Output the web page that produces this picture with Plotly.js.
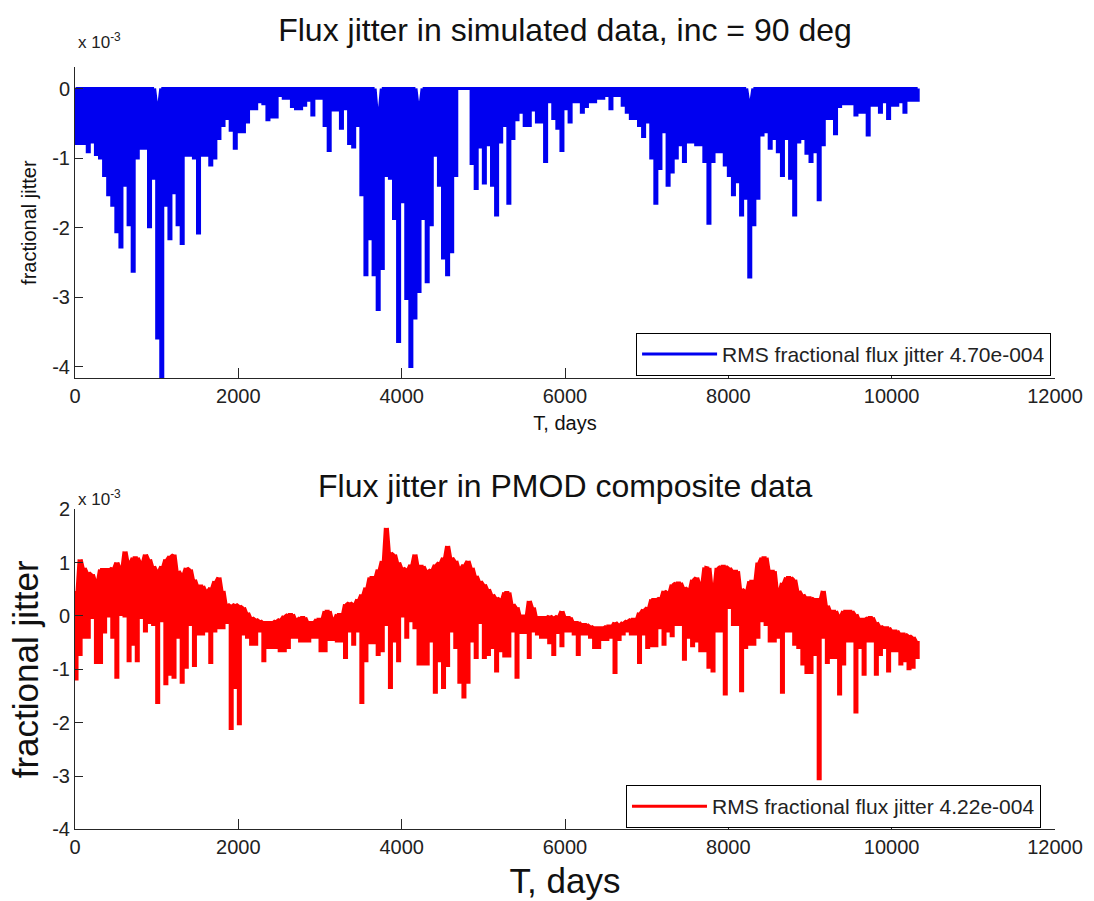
<!DOCTYPE html>
<html>
<head>
<meta charset="utf-8">
<script src="https://cdn.plot.ly/plotly-3.0.1.min.js"></script>
<style>html,body{margin:0;padding:0;background:#fff}#chart{width:1094px;height:901px}</style>
</head>
<body>
<div id="chart"></div>
<script>
// Time grid: one sample every 50 days (T, days); values are in units of 1e-3
const stepDays = 50;

// Simulated data (inc = 90 deg): upper and lower swing of the jitter in each 50-day sample
const simHigh = [
  0,0,0,0,0,0,0,0,0,0,
  0,0,0,0,0,0,0,0,0,0,
  -0.25,0,0,0,0,0,0,0,0,0,
  0,0,0,0,0,0,0,0,0,0,
  0,0,0,0,0,0,0,0,0,0,
  0,0,0,0,0,0,0,0,0,0,
  0,0,0,0,0,0,0,0,0,0,
  0,0,0,0,-0.35,0,0,0,0,0,
  0,0,0,0,-0.25,0,0,0,0,0,
  0,0,0,0,0,0,0,0,0,0,
  0,0,0,0,0,0,0,0,0,0,
  0,0,0,0,0,0,0,0,0,0,
  0,0,0,0,0,0,0,0,0,0,
  0,0,0,0,0,0,0,0,0,0,
  0,0,0,0,0,0,0,0,0,0,
  0,0,0,0,0,0,0,0,0,0,
  0,0,0,0,0,-0.2,0,0,0,0,
  0,0,0,0,0,0,0,0,0,0,
  0,0,0,0,0,0,0,0,0,0,
  0,0,0,0,0,0,0,0,0,0,
  0,0,0,0,0,0,0
];
const simLow = [
  -0.79,-0.79,-0.79,-0.91,-0.77,-0.95,-1.0,-1.25,-1.53,-1.68,
  -2.06,-2.28,-1.39,-1.96,-2.63,-1.0,-0.86,-0.86,-1.99,-1.29,
  -3.59,-4.17,-1.68,-2.16,-1.5,-1.96,-2.23,-0.96,-0.96,-1.0,
  -2.08,-0.96,-0.96,-1.1,-1.0,-0.72,-0.53,-0.43,-0.6,-0.86,
  -0.62,-0.62,-0.48,-0.29,-0.29,-0.19,-0.22,-0.45,-0.41,-0.41,
  -0.1,-0.14,-0.14,-0.26,-0.29,-0.29,-0.24,-0.17,-0.38,-0.14,
  -0.14,-0.53,-0.89,-0.31,-0.31,-0.57,-0.29,-0.79,-0.84,-0.53,
  -1.53,-2.68,-2.16,-2.68,-3.18,-2.59,-1.25,-1.29,-1.87,-3.64,
  -1.63,-3.02,-4.0,-3.3,-2.92,-1.87,-2.78,-1.96,-0.96,-1.39,
  -2.44,-2.68,-2.35,-1.25,0,0,0,-1.08,-1.44,-0.84,
  -1.36,-0.81,-1.39,-1.82,-0.77,-0.53,-1.65,-0.72,-0.45,-0.34,
  -0.53,-0.53,-0.31,-0.48,-0.48,-1.05,-0.19,-0.43,-0.57,-0.89,
  -0.29,-0.48,-0.19,-0.19,-0.34,-0.26,-0.19,-0.19,-0.14,-0.14,
  -0.1,-0.29,-0.1,-0.1,-0.24,-0.34,-0.43,-0.43,-0.53,-0.69,
  -0.48,-1.0,-1.65,-1.15,-0.62,-1.39,-1.2,-1.0,-0.81,-1.05,
  -0.77,-0.77,-0.81,-0.81,-1.05,-1.94,-1.05,-0.91,-0.91,-1.1,
  -1.25,-1.53,-1.34,-1.82,-1.58,-2.71,-1.96,-1.58,-0.67,-0.62,
  -0.86,-0.72,-0.91,-1.25,-0.72,-1.29,-1.82,-0.77,-0.72,-0.93,
  -1.05,-0.91,-1.6,-0.81,-0.43,-0.43,-0.65,-0.26,-0.22,-0.22,
  -0.22,-0.38,-0.34,-0.34,-0.67,-0.24,-0.24,-0.34,-0.19,-0.43,
  -0.24,-0.24,-0.19,-0.34,-0.17,-0.17,-0.17
];

// PMOD composite data: upper and lower swing of the jitter in each 50-day sample
const pmodHigh = [
  0.47,1.06,0.9,0.81,0.78,0.65,0.87,0.87,0.87,0.9,
  1.0,0.9,1.21,1.0,1.09,1.09,1.0,1.15,1.06,0.93,
  0.84,0.93,1.06,1.12,1.15,0.84,0.78,0.9,0.87,0.68,
  0.56,0.56,0.47,0.53,0.65,0.72,0.47,0.22,0.19,0.22,
  0.19,0.16,0.06,-0.03,-0.06,-0.09,-0.12,-0.12,-0.12,-0.09,
  -0.06,0.0,0.03,0.03,-0.06,-0.03,-0.03,-0.12,-0.12,-0.06,
  -0.06,0.09,0.09,-0.06,0.03,0.03,0.22,0.25,0.22,0.31,
  0.4,0.53,0.72,0.72,0.87,1.03,1.65,1.18,1.15,1.0,
  0.9,0.87,0.96,1.15,0.93,0.93,0.84,0.87,0.96,1.0,
  1.09,1.31,1.09,1.03,0.9,0.96,1.03,0.9,0.75,0.65,
  0.59,0.5,0.4,0.34,0.31,0.44,0.44,0.22,0.16,0.0,
  0.0,0.28,0.16,-0.03,-0.03,-0.03,0.0,-0.03,0.0,0.09,
  -0.03,-0.03,-0.12,-0.12,-0.16,-0.16,-0.19,-0.22,-0.22,-0.22,
  -0.19,-0.19,-0.12,-0.16,-0.12,-0.09,-0.06,-0.06,0.06,0.12,
  0.16,0.31,0.31,0.34,0.47,0.44,0.59,0.62,0.62,0.53,
  0.5,0.68,0.72,0.59,0.91,0.9,0.53,0.9,0.93,0.93,
  0.9,0.84,0.84,0.5,0.47,0.65,0.65,1.0,1.09,1.09,
  0.84,0.84,0.47,0.62,0.72,0.72,0.68,0.47,0.4,0.34,
  0.34,0.31,0.31,0.47,0.19,0.09,0.09,0.0,0.09,0.09,
  0.09,0.03,-0.06,-0.06,-0.03,-0.03,-0.12,-0.19,-0.22,-0.22,
  -0.28,-0.28,-0.34,-0.34,-0.37,-0.4,-0.47
];
const pmodLow = [
  -1.18,-0.72,-0.4,-0.4,-0.03,-0.87,-0.87,-0.3,0.0,-0.4,
  -1.15,0.03,0.0,-0.84,-0.53,-0.84,-0.03,-0.28,-0.12,-0.16,
  -1.62,-0.09,-1.27,-1.09,-1.15,-0.4,-1.24,-0.96,-0.16,-0.93,
  -0.34,-0.34,-0.28,-0.87,-0.28,-0.22,-0.22,-0.12,-2.11,-1.34,
  -2.02,-0.34,-0.4,-0.53,-0.53,-0.28,-0.84,-0.59,-0.59,-0.59,
  -0.65,-0.65,-0.59,-0.4,-0.4,-0.47,-0.47,-0.47,-0.4,-0.4,
  -0.65,-0.65,-0.44,-0.44,-0.47,-0.47,-0.78,-0.28,-0.53,-0.28,
  -1.62,-0.84,-0.5,-0.5,-0.72,-0.65,-0.16,-1.34,-0.47,-0.84,
  0.0,-0.4,-0.09,-0.22,-0.9,-0.9,-0.9,-0.47,-1.43,-0.84,
  -1.34,-0.93,-0.28,-0.59,-1.24,-1.52,-1.24,-0.47,-0.78,-0.12,
  -0.78,-0.72,-0.59,-1.03,-0.65,-0.75,-0.75,-0.28,-1.15,-0.31,
  -0.31,-0.78,-0.28,-0.34,-0.4,-0.4,-0.5,-0.72,-0.31,-0.56,
  -0.28,-0.28,-0.34,-0.72,-0.34,-0.34,-0.4,-0.59,-0.59,-0.44,
  -0.44,-0.4,-1.06,-0.44,-0.34,-0.28,-0.34,-0.34,-0.87,-0.34,
  -0.59,-0.56,-0.56,-0.22,-0.53,-0.28,-0.37,-0.16,-0.16,-0.81,
  -0.4,-0.56,-0.47,-0.65,-0.65,-0.96,-1.03,-0.28,-0.28,-1.46,
  0.16,-0.16,-0.16,-1.4,-0.59,-0.53,-0.53,-0.4,-0.09,-0.16,
  -0.47,-0.47,-0.4,-1.43,-0.28,-0.28,-0.53,-0.59,-0.9,-1.06,
  -1.06,-0.72,-3.05,-0.4,-0.87,-0.78,-0.78,-1.46,-0.9,-0.47,
  -0.47,-1.8,-0.59,-1.09,-0.47,-0.47,-1.09,-0.72,-0.59,-1.03,
  -0.65,-0.65,-0.9,-0.84,-0.99,-0.96,-0.78
];

const xTickVals = [0, 2000, 4000, 6000, 8000, 10000, 12000];
const simYTickVals = [-4, -3, -2, -1, 0];
const simYTickText = ['-4', '-3', '-2', '-1', '0'];
const pmodYTickVals = [-4, -3, -2, -1, 0, 1, 2];
const pmodYTickText = ['-4', '-3', '-2', '-1', '0', '1', '2'];

const simLegend = 'RMS fractional flux jitter 4.70e-004';
const pmodLegend = 'RMS fractional flux jitter 4.22e-004';

// Build the jitter line: within each 50-day sample the flux swings from its
// upper value down to its lower value and back, over the first half of the sample
function jitterLine(high, low) {
  const x = [], y = [];
  for (let i = 0; i < high.length; i++) {
    const t0 = i * stepDays, t1 = i * stepDays + stepDays / 2;
    x.push(t0, t0, t1, t1);
    y.push(high[i], low[i], low[i], high[i]);
  }
  return {x, y};
}

const sim = jitterLine(simHigh, simLow);
const pmod = jitterLine(pmodHigh, pmodLow);

const FONT = 'Liberation Sans, Arial, Helvetica, sans-serif';
const AX = '#262626';

const traces = [
  {x: sim.x, y: sim.y, type: 'scatter', mode: 'lines', name: simLegend,
   line: {color: '#0000f0', width: 3}, xaxis: 'x', yaxis: 'y', legend: 'legend'},
  {x: pmod.x, y: pmod.y, type: 'scatter', mode: 'lines', name: pmodLegend,
   line: {color: '#ff0000', width: 3}, xaxis: 'x2', yaxis: 'y2', legend: 'legend2'}
];

function xAxis(anchor, titleSize, standoff) {
  return {
    anchor: anchor, domain: [0, 1], range: [0, 12000],
    tickvals: xTickVals, tickformat: 'd',
    ticks: 'inside', ticklen: 10, tickwidth: 1, tickcolor: AX,
    showline: true, linecolor: AX, linewidth: 1,
    showgrid: false, zeroline: false, automargin: false,
    tickfont: {family: FONT, size: 20, color: '#222'},
    title: {text: 'T, days', font: {family: FONT, size: titleSize, color: '#111'}, standoff: standoff}
  };
}
function yAxis(anchor, domain, range, vals, text, titleSize, standoff) {
  return {
    anchor: anchor, domain: domain, range: range,
    tickvals: vals, ticktext: text,
    ticks: 'inside', ticklen: 8, tickwidth: 1, tickcolor: AX,
    showline: true, linecolor: AX, linewidth: 1,
    showgrid: false, zeroline: false, automargin: false,
    tickfont: {family: FONT, size: 20, color: '#222'},
    title: {text: 'fractional jitter', font: {family: FONT, size: titleSize, color: '#111'}, standoff: standoff}
  };
}

const legendBase = {
  xanchor: 'right', yanchor: 'top', bgcolor: '#ffffff',
  bordercolor: '#000000', borderwidth: 1, itemwidth: 75,
  font: {family: FONT, size: 21, color: '#222'}
};

const layout = {
  width: 1094, height: 901,
  margin: {l: 75, r: 39, t: 10, b: 10},
  paper_bgcolor: '#ffffff', plot_bgcolor: '#ffffff',
  font: {family: FONT, color: '#222'},
  showlegend: true,
  title: {text: 'Flux jitter in simulated data, inc = 90 deg', font: {family: FONT, size: 32, color: '#111'},
          xref: 'paper', x: 0.5, xanchor: 'center', yref: 'container', y: 0.967, yanchor: 'middle'},
  xaxis: xAxis('y', 20, 9),
  yaxis: yAxis('x', [0.5819, 0.9353], [-4.17, 0.31], simYTickVals, simYTickText, 20, 10),
  xaxis2: xAxis('y2', 35, 11),
  yaxis2: yAxis('x2', [0.0699, 0.4333], [-4, 2], pmodYTickVals, pmodYTickText, 35, 2),
  legend: Object.assign({}, legendBase, {x: 0.996, y: 0.6334}),
  legend2: Object.assign({}, legendBase, {x: 0.9857, y: 0.1203}),
  annotations: [
    {text: 'Flux jitter in PMOD composite data', xref: 'paper', yref: 'paper', x: 0.5, y: 0.4597,
     xanchor: 'center', yanchor: 'middle', showarrow: false, font: {family: FONT, size: 32, color: '#111'}},
    {text: 'x 10<sup>-3</sup>', xref: 'paper', yref: 'paper', x: 0.001, y: 0.965,
     xanchor: 'left', yanchor: 'middle', showarrow: false, font: {family: FONT, size: 17, color: '#222'}},
    {text: 'x 10<sup>-3</sup>', xref: 'paper', yref: 'paper', x: 0.001, y: 0.446,
     xanchor: 'left', yanchor: 'middle', showarrow: false, font: {family: FONT, size: 17, color: '#222'}}
  ]
};

Plotly.newPlot('chart', traces, layout, {staticPlot: true, displayModeBar: false});
</script>
</body>
</html>
